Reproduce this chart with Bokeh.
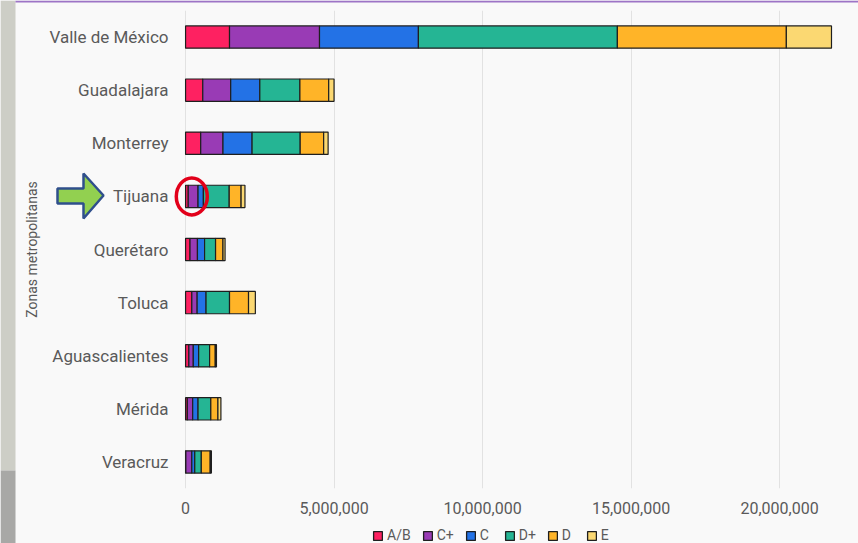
from bokeh.plotting import figure
from bokeh.models import (ColumnDataSource, Legend, LegendItem, FixedTicker,
                          NumeralTickFormatter, Range1d, FactorRange, GridBox, Column)
from bokeh.embed import file_html
from bokeh.resources import INLINE

# ---- data ----
zones = ["Valle de México", "Guadalajara", "Monterrey", "Tijuana", "Querétaro",
         "Toluca", "Aguascalientes", "Mérida", "Veracruz"]
ab    = [1480000, 580000, 510000,  90000, 150000, 210000, 110000,  60000,  10000]
cplus = [3030000, 940000, 750000, 330000, 250000, 180000, 150000, 180000, 200000]
c     = [3330000, 980000, 980000, 180000, 240000, 300000, 180000, 180000, 100000]
dplus = [6700000, 1350000, 1620000, 870000, 370000, 790000, 370000, 430000, 220000]
d     = [5690000, 970000, 790000, 400000, 250000, 640000, 190000, 240000, 300000]
e     = [1520000, 180000, 150000, 130000,  70000, 230000,  40000, 100000,  40000]
segment_names = ["A/B", "C+", "C", "D+", "D", "E"]
segment_keys = ["ab", "cplus", "c", "dplus", "d", "e"]
segment_colors = ["#fe2161", "#993bb5", "#2372e6", "#25b594", "#ffb428", "#fbd872"]
x_ticks = [0, 5000000, 10000000, 15000000, 20000000]
highlight_zone = "Tijuana"

source = ColumnDataSource(dict(zone=zones, ab=ab, cplus=cplus, c=c, dplus=dplus, d=d, e=e))

FONT = "Roboto"
TXT = "#5a5a5a"
BG = "#f9f9f9"
EDGE = "#1f1f1f"

# ---- decoration layer (drawn under the transparent chart) ----
ov = figure(width=858, height=543, x_range=Range1d(0, 858), y_range=Range1d(543, 0),
            min_border=0, x_axis_location=None, y_axis_location=None,
            output_backend="svg", toolbar_location=None,
            background_fill_alpha=0, border_fill_alpha=0, outline_line_color=None)
ov.grid.visible = False
ov.patches(xs=[[0, 15, 15, 0], [0, 15, 15, 0], [15, 858, 858, 15]],
           ys=[[0, 0, 470, 470], [470, 470, 543, 543], [0, 0, 2, 2]],
           fill_color=["#cdcec6", "#a8a8a6", "#9d74c6"], line_color=None)
ov.patch(x=[57, 83, 83, 103, 83, 83, 57], y=[188, 188, 173, 195, 218, 203, 203],
         fill_color="#92d050", line_color="#2f4f8c", line_width=2.5)

# legend swatches (zero-size, off-canvas; only used for the legend)
swatches = [ov.quad(left=[-20], right=[-20], top=[-20], bottom=[-20], fill_color=col,
                    line_color=EDGE, line_width=1.3) for col in segment_colors]
legend = Legend(items=[LegendItem(label=n, renderers=[r]) for n, r in zip(segment_names, swatches)],
                orientation="horizontal", location=(372, 0),
                label_text_font=FONT, label_text_font_size="14px", label_text_color=TXT,
                glyph_width=11, glyph_height=11, label_standoff=4, spacing=11,
                padding=0, margin=0, border_line_color=None, background_fill_alpha=0,
                label_height=14, label_width=13)
ov.add_layout(legend)

# ---- chart ----
p = figure(y_range=FactorRange(*list(reversed(zones))),
           x_range=Range1d(-440000, 22390000),
           frame_width=678, frame_height=478,
           min_border_left=172, min_border_right=8, min_border_top=10, min_border_bottom=55,
           output_backend="svg", toolbar_location=None,
           background_fill_alpha=0, border_fill_alpha=0, outline_line_color=None)

p.hbar_stack(segment_keys, y="zone", height=0.42, color=segment_colors,
             line_color=EDGE, line_width=1.2, source=source)

# highlight ellipse around the first segments of Tijuana
hi = zones.index(highlight_zone)
p.ellipse(x=[(ab[hi] + cplus[hi]) / 2], y=[highlight_zone], width=31, height=37,
          width_units="screen", height_units="screen",
          fill_alpha=0, line_color="#e2001a", line_width=3.5)

p.xaxis.ticker = FixedTicker(ticks=x_ticks)
p.xaxis.formatter = NumeralTickFormatter(format="0,0")
p.xaxis.axis_line_color = None
p.xaxis.major_tick_line_color = None
p.xaxis.minor_tick_line_color = None
p.xaxis.major_tick_out = 0
p.xaxis.major_label_standoff = 13
p.xaxis.major_label_text_font = FONT
p.xaxis.major_label_text_font_size = "16px"
p.xaxis.major_label_text_color = TXT

p.yaxis.axis_line_color = None
p.yaxis.major_tick_line_color = None
p.yaxis.minor_tick_line_color = None
p.yaxis.major_tick_out = 0
p.yaxis.major_label_standoff = 4
p.yaxis.major_label_text_font = FONT
p.yaxis.major_label_text_font_size = "17px"
p.yaxis.major_label_text_color = TXT
p.yaxis.axis_label = "Zonas metropolitanas"
p.yaxis.axis_label_text_font = FONT
p.yaxis.axis_label_text_font_size = "14px"
p.yaxis.axis_label_text_font_style = "normal"
p.yaxis.axis_label_text_color = TXT
p.yaxis.axis_label_standoff = 6

p.ygrid.grid_line_color = None
p.xgrid.grid_line_color = "#e2e2e2"
p.xgrid.ticker = FixedTicker(ticks=x_ticks)

layout = GridBox(children=[(Column(children=[ov]), 0, 0), (p, 0, 0)],
                 styles={"background-color": BG})

open("out.html", "w").write(file_html(layout, INLINE))
